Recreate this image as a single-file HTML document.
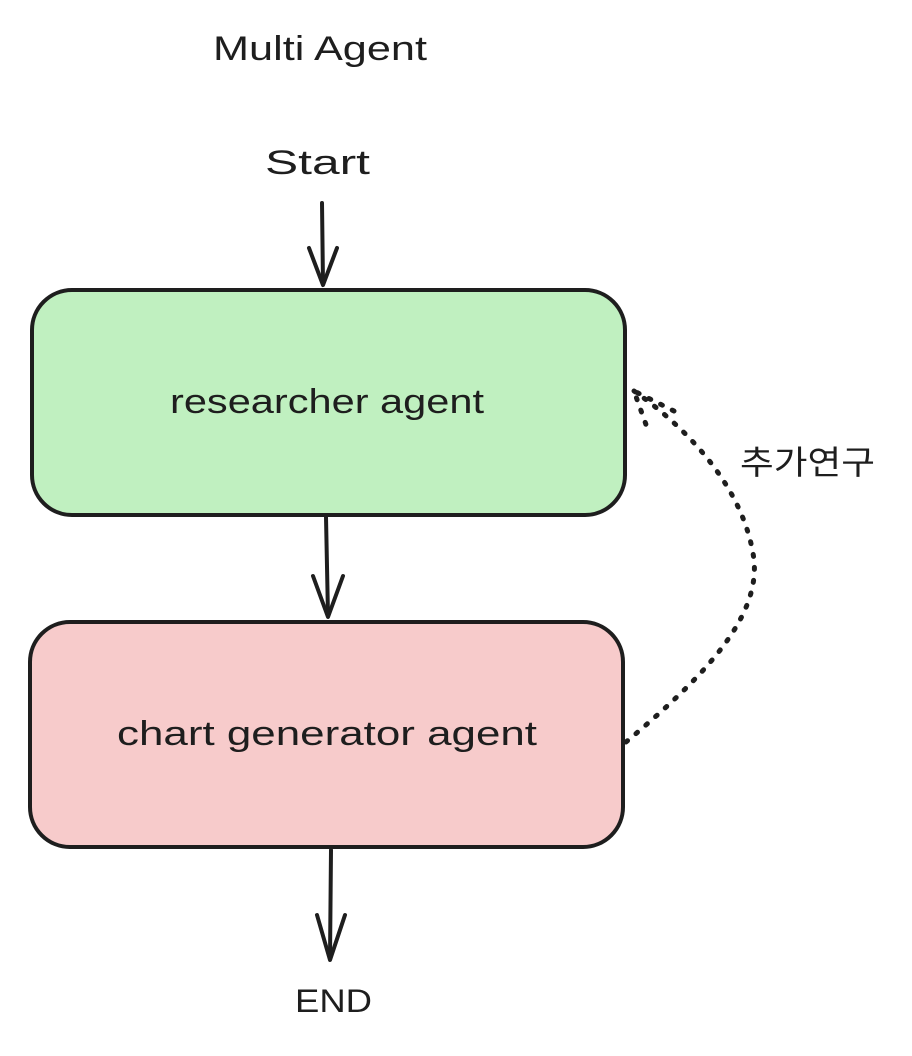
<!DOCTYPE html>
<html><head><meta charset="utf-8"><style>
html,body{margin:0;padding:0;background:#fff;width:912px;height:1056px;overflow:hidden}
svg{display:block}
text{font-family:"Liberation Sans","Noto Sans CJK KR",sans-serif;fill:#1e1e1e}
</style></head><body>
<svg width="912" height="1056" viewBox="0 0 912 1056" xmlns="http://www.w3.org/2000/svg">
<text x="213" y="60" font-size="34" textLength="214" lengthAdjust="spacingAndGlyphs">Multi Agent</text>
<text x="265" y="174" font-size="34" textLength="105" lengthAdjust="spacingAndGlyphs">Start</text>
<g stroke="#1e1e1e" stroke-width="4" fill="none" stroke-linecap="round" stroke-linejoin="round">
<path d="M322 203 L323 284"/><path d="M309 248 L323 285 L337 248"/>
<rect x="32" y="290" width="593" height="225" rx="40" fill="#c0f0c0"/>
<path d="M326 517 L328 616"/><path d="M313 576 L328 617 L343 576"/>
<rect x="30" y="622" width="593" height="225" rx="40" fill="#f7cbcb"/>
<path d="M331 850 L330 958"/><path d="M317 915 L330 960 L345 915"/>
<path d="M626 742 C700 680 760 620 754 560 C745 490 690 430 634 391" stroke-dasharray="2 11" stroke-width="5"/>
<path d="M674 411 L634 391 L649 433" stroke-dasharray="2 11" stroke-width="5"/>
</g>
<text x="170" y="413" font-size="34" textLength="314" lengthAdjust="spacingAndGlyphs">researcher agent</text>
<text x="117" y="745" font-size="34" textLength="420" lengthAdjust="spacingAndGlyphs">chart generator agent</text>
<text x="295" y="1012" font-size="32" textLength="77" lengthAdjust="spacingAndGlyphs">END</text>
<text x="740" y="474" font-size="33" textLength="135" lengthAdjust="spacingAndGlyphs">추가연구</text>
</svg>
</body></html>
